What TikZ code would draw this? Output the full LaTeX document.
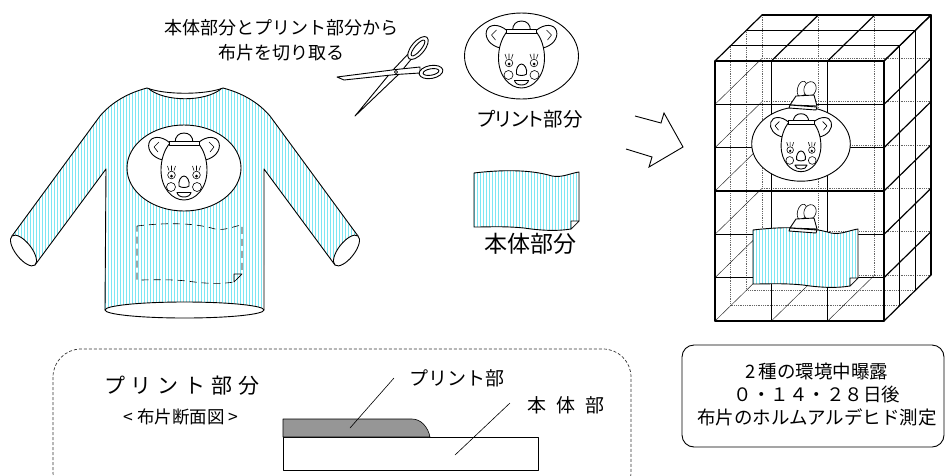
\documentclass[tikz,border=0pt]{standalone}
\usepackage{fontspec}
\setmainfont{Noto Sans CJK JP}
\newfontfamily\jpp{Noto Sans CJK JP}[RawFeature=+palt]
\usetikzlibrary{patterns.meta}
\definecolor{stripe}{RGB}{125,230,243}
\definecolor{inkgray}{RGB}{150,150,150}

\tikzset{
  stripes/.style={preaction={fill=white},pattern={Lines[angle=90,distance=3pt,line width=0.7pt]},pattern color=stripe},
  ink/.style={draw=black,line width=0.9pt,line join=round},
  thinink/.style={draw=black,line width=0.6pt,line join=round},
  bar/.style={draw=black,line width=1.2pt,line cap=round},
  hidbar/.style={draw=black!60,line width=0.7pt,dash pattern=on 0.8pt off 1pt},
  hiddiag/.style={draw=black!85,line width=0.45pt},
  txt/.style={inner sep=0pt,anchor=center},
  clothedge/.style={insert path={(0,0) .. controls (25,-3) and (55,-4) .. (78,3)
      .. controls (88,5) and (97,0) .. (105,-1) -- (105,48) -- (97,56)
      .. controls (85,58) and (70,58) .. (50,55) .. controls (30,53) and (15,54) .. (0,54) -- cycle}},
  % a striped piece of fabric with a folded corner
  clothpiece/.pic={
    \draw[ink,stripes,clothedge];
    \draw[thinink,fill=white] (105,48) -- (97,56) -- (97,48) -- cycle;
  },
  % the cutting line marked on the sweater
  clothcut/.pic={
    \draw[thinink,dash pattern=on 7pt off 5pt,clothedge];
    \draw[thinink] (105,48) -- (97,56) -- (97,48) -- cycle;
  },
  % koala print on a white oval
  koala/.pic={
    \draw[ink,fill=white] (0,0) ellipse [x radius=57,y radius=43];
    \draw[ink,fill=white] (-21,-8) .. controls (-31,-10) and (-37,-18) .. (-35,-25)
        .. controls (-33,-32) and (-23,-33) .. (-14,-25) -- cycle;
    \draw[ink,fill=white] (21,-8) .. controls (31,-10) and (37,-18) .. (35,-25)
        .. controls (33,-32) and (23,-33) .. (14,-25) -- cycle;
    \draw[thinink] (-25,-26) -- (-30,-21) -- (-26,-16);
    \draw[thinink] (25,-26) -- (30,-21) -- (26,-16);
    \draw[ink,fill=white] (-14,-25) .. controls (-20,-18) and (-23,-8) .. (-23,2)
        .. controls (-23,20) and (-12,32) .. (0,32) .. controls (12,32) and (23,20) .. (23,2)
        .. controls (23,-8) and (20,-18) .. (14,-25) -- cycle;
    \draw[ink,fill=white] (-9,-25) .. controls (-9,-32) and (-5,-35) .. (0,-35)
        .. controls (5,-35) and (9,-32) .. (9,-25) -- cycle;
    \draw[ink,fill=white] (-15,-27) rectangle (15,-23);
    \foreach \s in {-1,1}{
      \draw[thinink,fill=white] ({12.5*\s},7) circle [radius=3.8];
      \fill ({12.5*\s},8) circle [radius=1.5];
      \draw[thinink] ({12.5*\s-2.5},2.5) -- ({12.5*\s-4},-2)
                     ({12.5*\s},2.5) -- ({12.5*\s},-2.5)
                     ({12.5*\s+2.5},2.5) -- ({12.5*\s+4},-2);
      \draw[thinink] ({13*\s},19) circle [radius=4.5];
    }
    \draw[ink] (-5,18) .. controls (-6,13) and (-3,8) .. (0,8) .. controls (3,8) and (6,13) .. (5,18)
        .. controls (3,20) and (-3,20) .. cycle;
    \draw[ink] (-7,24.5) -- (7,24.5) .. controls (6,30.5) and (-6,30.5) .. cycle;
  },
  % binder clip holding a sample
  binderclip/.pic={
    \draw[thinink,fill=white,shift={(-1,-7)},rotate=-15] (0,0) ellipse [x radius=4.5,y radius=8];
    \draw[thinink,fill=white,shift={(7,-7)},rotate=-20] (0,0) ellipse [x radius=6,y radius=7.5];
    \draw[ink,fill=white] (-7,0) -- (11,-1) -- (14,10) -- (-13,9) -- cycle;
    \draw[ink,fill=white] (-13,9) -- (14,11) -- (13,14) -- (-14,12) -- cycle;
  },
}

\begin{document}
\begin{tikzpicture}[x=1pt,y=-1pt]
\useasboundingbox (0,0) rectangle (945,475);
\fill[white] (0,0) rectangle (945,475);
\clip (0,0) rectangle (945,475);

% ---------------- sweater ----------------
\path[stripes] (149,89) .. controls (165,102) and (205,102) .. (221,89) -- (223,88)
  .. controls (242,93) and (258,102) .. (270,116) -- (358,236) -- (335,265) -- (264,169)
  -- (264,310) -- (105,310) -- (106,169) -- (35,265) -- (12,236) -- (100,116)
  .. controls (112,102) and (128,93) .. (147,88) -- cycle;
\draw[ink] (147,88) .. controls (128,93) and (112,102) .. (100,116) -- (12,236);
\draw[ink] (35,265) -- (106,169) -- (105,310);
\draw[ink] (223,88) .. controls (242,93) and (258,102) .. (270,116) -- (358,236);
\draw[ink] (335,265) -- (264,169) -- (264,310);
\draw[ink] (147,88) .. controls (165,95) and (205,95) .. (223,88);
\draw[ink] (149,89) .. controls (165,102) and (205,102) .. (221,89);
\draw[ink,fill=white,shift={(23.5,250.5)},rotate=-52] (0,0) ellipse [x radius=18.5,y radius=8];
\draw[ink,fill=white,shift={(346.5,250.5)},rotate=52] (0,0) ellipse [x radius=18.5,y radius=8];
\draw[ink,fill=white] (184.5,310) ellipse [x radius=79.5,y radius=8];
\pic at (184,168) {koala};
\pic at (137,226) {clothcut};

% ---------------- caption and scissors ----------------
\node[txt,align=center,font=\fontsize{18}{24.5}\selectfont] (cut) at (281,40)
  {本体部分とプリント部分から\\布片を切り取る};

\draw[ink,fill=white] (355,116) -- (392,71) -- (409,53) -- (413,57) -- (399,74) -- cycle;
\draw[ink,fill=white,shift={(418,48)},rotate=50] (0,0) ellipse [x radius=14,y radius=6.5];
\draw[ink,fill=white,shift={(418,48)},rotate=50] (0,0) ellipse [x radius=10,y radius=3.2];
\draw[ink,fill=white] (337,77) -- (396,69.5) -- (420,67) -- (420,73) -- (396,74.5) -- (344,80) -- cycle;
\draw[ink,fill=white,shift={(431,72)},rotate=10] (0,0) ellipse [x radius=12,y radius=6.5];
\draw[ink,fill=white,shift={(431,72)},rotate=10] (0,0) ellipse [x radius=8,y radius=3.2];
\draw[thinink,fill=white] (396,72) circle [radius=1.6];

% ---------------- cut samples ----------------
\pic at (521.5,56) {koala};
\node[txt,font=\jpp\fontsize{19.5}{22}\selectfont] (printlbl) at (530,119) {プリント部分};
\pic at (474,173) {clothpiece};
\node[txt,font=\fontsize{23}{26}\selectfont] (bodylbl) at (530,244) {本体部分};

% ---------------- open arrow ----------------
\draw[ink,line join=miter] (635,116) -- (661,123) -- (664,113) -- (683,147) -- (649,167) -- (652,157) -- (626,149);

% ---------------- wire cage ----------------
\foreach \k in {1,2,3}{
  \draw[hidbar] ({715+15.667*\k},{61-15.333*\k}) -- ++(0,260);
  \draw[hidbar] ({715+15.667*\k},{321-15.333*\k}) -- ++(169,0);
}
\foreach \j in {1,...,6} \draw[hiddiag] (715,{61+43.333*\j}) -- ++(47,-46);
\foreach \i in {1,2} \draw[hiddiag] ({715+56.333*\i},321) -- ++(47,-46);
\foreach \i in {1,2} \draw[hidbar] ({762+56.333*\i},15) -- ++(0,260);
\foreach \j in {1,...,5} \draw[hidbar] (762,{15+43.333*\j}) -- ++(169,0);

\foreach \i in {0,...,3} \draw[bar] ({715+56.333*\i},61) -- ++(0,260);
\foreach \j in {0,...,6} \draw[bar] (715,{61+43.333*\j}) -- ++(169,0);
\foreach \k in {1,2,3}{
  \draw[bar] ({715+15.667*\k},{61-15.333*\k}) -- ++(169,0);
  \draw[bar] ({884+15.667*\k},{61-15.333*\k}) -- ++(0,260);
}
\foreach \i in {0,...,3} \draw[bar] ({715+56.333*\i},61) -- ++(47,-46);
\foreach \j in {0,...,6} \draw[bar] (884,{61+43.333*\j}) -- ++(47,-46);

\pic[scale=0.865] at (801,144) {koala};
\pic at (803,96) {binderclip};
\pic at (753,230) {clothpiece};
\pic at (803,219) {binderclip};

% ---------------- cross-section panel ----------------
\draw[black!80,line width=0.7pt,dash pattern=on 3pt off 2pt,rounded corners=28] (53,349) rectangle (631,500);
\node[txt,font=\fontsize{21}{24}\selectfont] (sectitle) at (182,386)
  {プ\hspace{6pt}リ\hspace{6pt}ン\hspace{6pt}ト\hspace{6pt}部\hspace{6pt}分};
\node[txt,font=\fontsize{17.5}{20}\selectfont] (secsub) at (181,417) {<\hspace{4pt}布片断面図\hspace{4pt}>};
\draw[thinink,fill=white] (283,437) rectangle (538,470);
\draw[thinink,fill=inkgray] (283,437) -- (283,419) -- (412,419) .. controls (421,419) and (428,427) .. (430,437) -- cycle;
\node[txt,font=\fontsize{19}{22}\selectfont] (printpart) at (457,378) {プリント部};
\node[txt,font=\fontsize{19}{22}\selectfont] (bodypart) at (566,405) {本\hspace{10pt}体\hspace{10pt}部};
\coordinate (pp1) at (394,378);
\coordinate (pp2) at (350,428);
\coordinate (bp1) at (510,403);
\coordinate (bp2) at (455,455);
\draw[thinink] (pp1) -- (pp2);
\draw[thinink] (bp1) -- (bp2);

% ---------------- exposure conditions ----------------
\draw[ink,rounded corners=12] (682,345) rectangle (944,447);
\node[txt,align=center,font=\fontsize{18.5}{23}\selectfont] (cond) at (817,395)
  {2\,種の環境中曝露\\０・１４・２８日後\\布片のホルムアルデヒド測定};
\end{tikzpicture}
\end{document}
